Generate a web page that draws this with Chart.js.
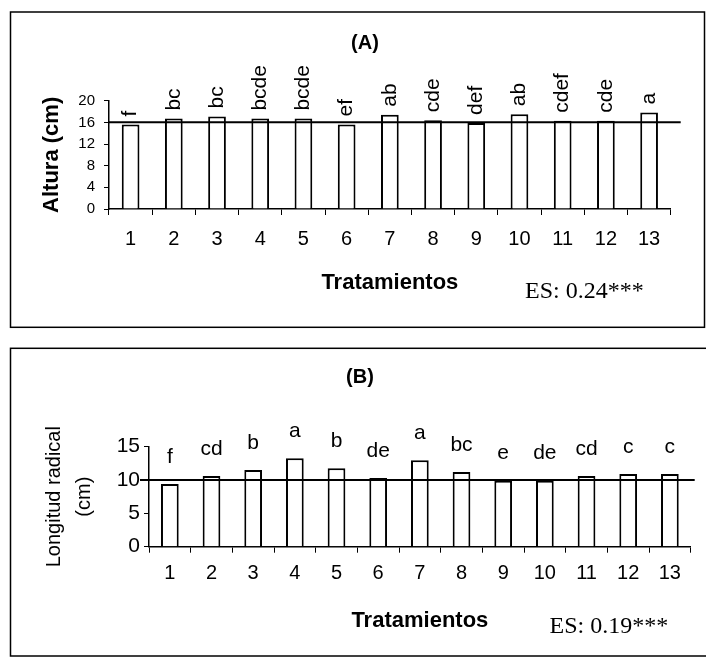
<!DOCTYPE html>
<html>
<head>
<meta charset="utf-8">
<script src="https://cdn.jsdelivr.net/npm/chart.js@4.4.0/dist/chart.umd.min.js"></script>
<style>
  body { margin: 0; background: #fff; }
  canvas { position: absolute; left: 0; }
  #chartA { top: 0; }
  #chartB { top: 330px; }
</style>
</head>
<body>
<canvas id="chartA" width="706" height="330"></canvas>
<canvas id="chartB" width="706" height="331"></canvas>
<script>
const tratamientos = ['1', '2', '3', '4', '5', '6', '7', '8', '9', '10', '11', '12', '13'];

// (A) plant height, cm
const alturaA = [15.6, 16.7, 17.1, 16.7, 16.7, 15.6, 17.4, 16.4, 15.9, 17.5, 16.3, 16.3, 17.8];
const letrasA = ['f', 'bc', 'bc', 'bcde', 'bcde', 'ef', 'ab', 'cde', 'def', 'ab', 'cdef', 'cde', 'a'];
const refA = 16;
const esA = 'ES: 0.24***';

// (B) root length, cm
const longitudB = [9.4, 10.6, 11.5, 13.25, 11.75, 10.3, 12.95, 11.2, 9.9, 9.9, 10.6, 10.9, 10.9];
const letrasB = ['f', 'cd', 'b', 'a', 'b', 'de', 'a', 'bc', 'e', 'de', 'cd', 'c', 'c'];
const refB = 10;
const esB = 'ES: 0.19***';

const SANS = '"Liberation Sans", Arial, sans-serif';
const SERIF = '"Liberation Serif", "Times New Roman", serif';
Chart.defaults.color = '#000';

// frame, title, reference line, letters and ES note
const panelDecor = {
  id: 'panelDecor',
  beforeDraw(chart, args, o) {
    const ctx = chart.ctx;
    ctx.save();
    ctx.fillStyle = '#fff';
    ctx.fillRect(0, 0, chart.width, chart.height);
    ctx.strokeStyle = '#000';
    ctx.lineWidth = 1.5;
    ctx.strokeRect(o.frame[0], o.frame[1], o.frame[2], o.frame[3]);
    ctx.restore();
  },
  afterDatasetsDraw(chart, args, o) {
    const ctx = chart.ctx;
    const area = chart.chartArea;
    const py = chart.scales.y.getPixelForValue(o.ref);
    ctx.save();
    ctx.strokeStyle = '#000';
    ctx.lineWidth = 2;
    ctx.beginPath();
    ctx.moveTo(area.left + o.refExt[0], py);
    ctx.lineTo(area.right + o.refExt[1], py);
    ctx.stroke();

    ctx.fillStyle = '#000';
    ctx.font = '21px ' + SANS;
    chart.getDatasetMeta(0).data.forEach((bar, i) => {
      if (o.rotate) {
        ctx.save();
        ctx.translate(bar.x, bar.y - o.gap);
        ctx.rotate(-Math.PI / 2);
        ctx.textAlign = 'left';
        ctx.textBaseline = 'middle';
        ctx.fillText(o.letters[i], 0, 0);
        ctx.restore();
      } else {
        ctx.textAlign = 'center';
        ctx.textBaseline = 'middle';
        ctx.fillText(o.letters[i], bar.x, bar.y - o.gap);
      }
    });

    ctx.textBaseline = 'middle';
    ctx.textAlign = 'center';
    ctx.font = 'bold 20px ' + SANS;
    ctx.fillText(o.title, o.titlePos[0], o.titlePos[1]);

    ctx.textAlign = 'left';
    ctx.font = '24px ' + SERIF;
    ctx.fillText(o.es, o.esPos[0], o.esPos[1]);
    ctx.restore();
  }
};

function buildChart(id, p) {
  return new Chart(document.getElementById(id), {
    type: 'bar',
    data: {
      labels: tratamientos,
      datasets: [{
        data: p.values,
        backgroundColor: '#fff',
        borderColor: '#000',
        borderWidth: 2,
        barPercentage: p.barPct,
        categoryPercentage: 1
      }]
    },
    options: {
      responsive: false,
      animation: false,
      layout: { padding: p.padding },
      plugins: {
        legend: { display: false },
        tooltip: { enabled: false },
        panelDecor: p.decor
      },
      scales: {
        x: {
          grid: { drawOnChartArea: false, drawTicks: true, tickLength: 6, color: '#000', offset: true },
          border: { color: '#000', width: 1.5 },
          ticks: { font: { size: 20, family: SANS }, padding: p.xTickPad, autoSkip: false, maxRotation: 0 },
          title: {
            display: true,
            text: 'Tratamientos',
            font: { size: 22, weight: 'bold', family: SANS },
            padding: { top: 0, bottom: p.xTitlePad }
          },
          afterFit: s => { s.height = p.xHeight; }
        },
        y: {
          min: 0,
          max: p.yMax,
          grid: { drawOnChartArea: false, drawTicks: true, tickLength: 5, color: '#000' },
          border: { color: '#000', width: 1.5 },
          ticks: { stepSize: p.yStep, font: { size: p.yTickSize, family: SANS }, padding: p.yTickPad },
          title: {
            display: true,
            text: p.yTitle,
            font: p.yTitleFont,
            padding: { top: p.yTitlePad, bottom: 0 }
          },
          afterFit: s => { s.width = p.yWidth; }
        }
      }
    },
    plugins: [panelDecor]
  });
}

buildChart('chartA', {
  values: alturaA,
  barPct: 0.41,
  padding: { top: 100.7, left: 0, right: 35.3, bottom: 0 },
  xHeight: 121,
  yWidth: 109,
  xTickPad: 12.5,
  xTitlePad: 33.8,
  yMax: 20,
  yStep: 4,
  yTickSize: 15,
  yTickPad: 9,
  yTitle: 'Altura (cm)',
  yTitleFont: { size: 22, weight: 'bold', family: SANS },
  yTitlePad: 39,
  decor: {
    frame: [10.5, 12, 694, 315.3],
    ref: refA,
    refExt: [0, 10],
    letters: letrasA,
    rotate: true,
    gap: 8,
    title: '(A)',
    titlePos: [365, 43],
    es: esA,
    esPos: [525, 292]
  }
});

buildChart('chartB', {
  values: longitudB,
  barPct: 0.425,
  padding: { top: 116.7, left: 0, right: 15.3, bottom: 0 },
  xHeight: 114.3,
  yWidth: 149,
  xTickPad: 8.3,
  xTitlePad: 26.8,
  yMax: 15,
  yStep: 5,
  yTickSize: 21,
  yTickPad: 4,
  yTitle: ['Longitud radical', '(cm)'],
  yTitleFont: { size: 20, family: SANS, lineHeight: 1.5 },
  yTitlePad: 39,
  decor: {
    frame: [10.5, 18.3, 720, 307.7],
    ref: refB,
    refExt: [-9, 4],
    letters: letrasB,
    rotate: false,
    gap: 27,
    title: '(B)',
    titlePos: [360, 47],
    es: esB,
    esPos: [549.5, 297]
  }
});
</script>
</body>
</html>
